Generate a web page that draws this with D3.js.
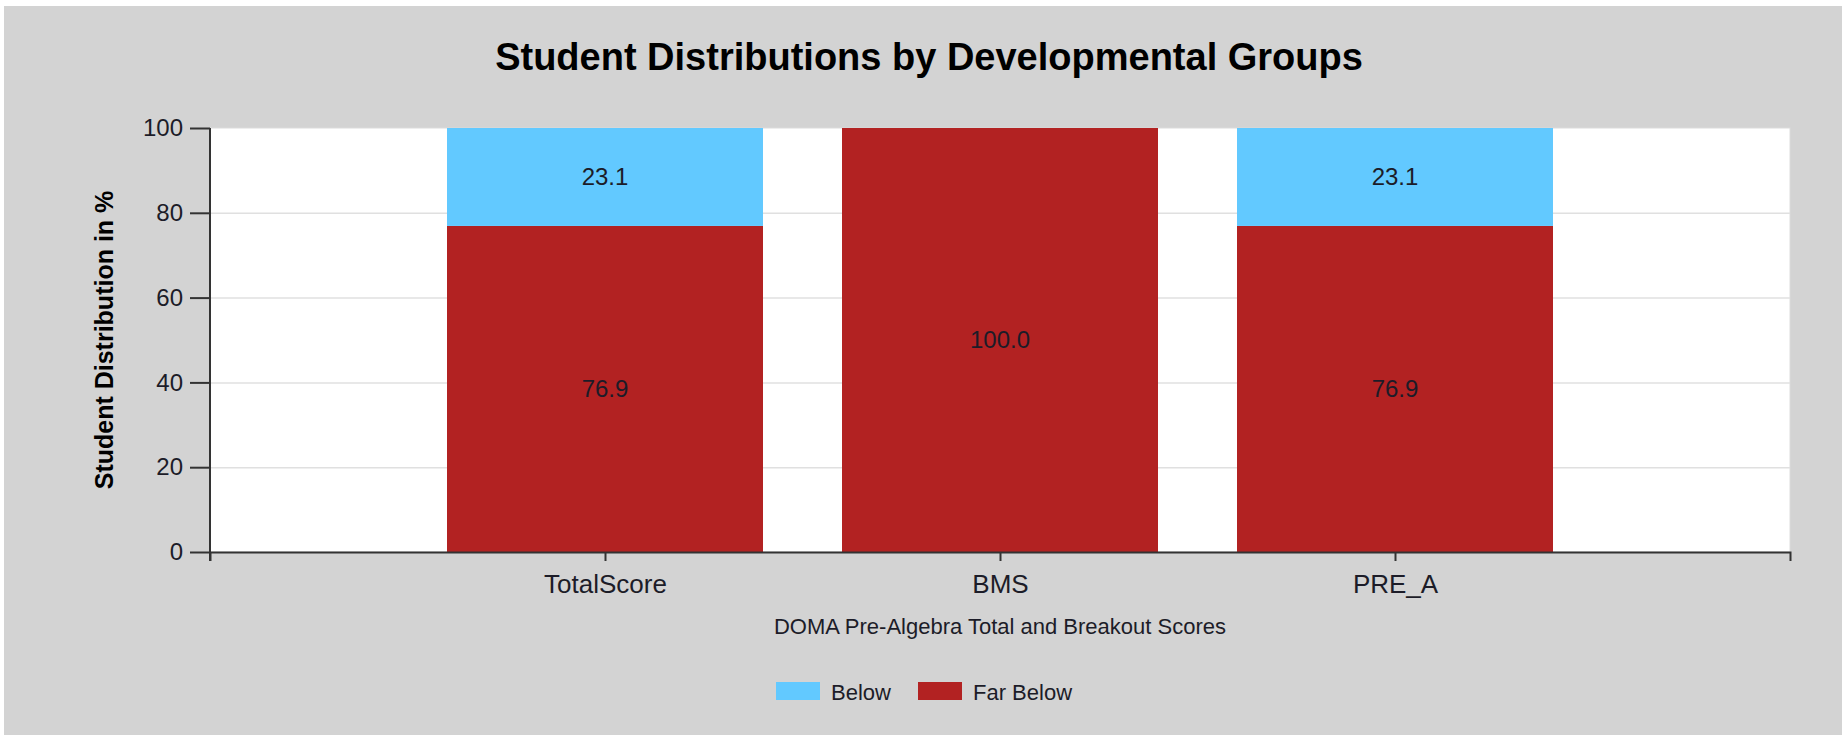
<!DOCTYPE html>
<html>
<head>
<meta charset="utf-8">
<script src="https://cdn.jsdelivr.net/npm/d3@7"></script>
<style>
  body { margin: 0; background: #fff; }
  svg { display: block; font-family: Arial, "Liberation Sans", sans-serif; }
</style>
</head>
<body>
<svg width="1842" height="735"></svg>
<script>
(function () {

  // data
  var categories = ['TotalScore', 'BMS', 'PRE_A']
  var farBelow = [76.9, 100.0, 76.9]
  var below = [23.1, 0, 23.1]
  var seriesNames = ['Far Below', 'Below']
  var seriesColours = ['#b22222', '#62c9ff']
  var legendOrder = ['Below', 'Far Below']
  var yTicks = [0, 20, 40, 60, 80, 100]

  var rows = categories.map(function (c, i) {
    return { cat: c, 'Far Below': farBelow[i], 'Below': below[i] }
  })

  var svg = d3.select('svg')
  var textColour = '#1c1c28'

  // grey panel
  svg.append('rect')
    .attr('x', 4).attr('y', 6)
    .attr('width', 1838).attr('height', 729)
    .attr('fill', '#d3d3d3')

  var left = 210, right = 1790, top = 128, bottom = 552

  var x = d3.scalePoint().domain(categories).range([left, right]).padding(1)
  var bandW = x.step() * 0.8
  var y = d3.scaleLinear().domain([0, 100]).range([bottom, top])
  var colour = d3.scaleOrdinal().domain(seriesNames).range(seriesColours)

  // plot background
  svg.append('rect')
    .attr('x', left).attr('y', top)
    .attr('width', right - left).attr('height', bottom - top)
    .attr('fill', '#fff')
    .attr('stroke', '#dcdcdc')

  // gridlines
  svg.append('g').selectAll('line')
    .data(yTicks.filter(function (d) { return d > 0 && d < 100 }))
    .enter().append('line')
    .attr('x1', left).attr('x2', right)
    .attr('y1', function (d) { return y(d) + 0.5 })
    .attr('y2', function (d) { return y(d) + 0.5 })
    .attr('stroke', '#e0e0e0')
    .attr('stroke-width', 1.5)

  // stacked bars
  var stacked = d3.stack().keys(seriesNames)(rows)

  var layers = svg.append('g').selectAll('g')
    .data(stacked)
    .enter().append('g')
    .attr('fill', function (d) { return colour(d.key) })

  layers.selectAll('rect')
    .data(function (d) { return d })
    .enter().append('rect')
    .attr('x', function (d) { return x(d.data.cat) - bandW / 2 })
    .attr('width', bandW)
    .attr('y', function (d) { return y(d[1]) })
    .attr('height', function (d) { return y(d[0]) - y(d[1]) })

  // value labels
  layers.selectAll('text')
    .data(function (d) { return d.filter(function (p) { return p[1] - p[0] > 0 }) })
    .enter().append('text')
    .attr('x', function (d) { return x(d.data.cat) })
    .attr('y', function (d) { return (y(d[0]) + y(d[1])) / 2 })
    .attr('dy', '0.35em')
    .attr('text-anchor', 'middle')
    .attr('fill', textColour)
    .attr('font-size', 24)
    .text(function (d) { return d3.format('.1f')(d[1] - d[0]) })

  // y axis
  var yAxis = svg.append('g')
    .attr('transform', 'translate(' + left + ',0)')
    .call(d3.axisLeft(y).tickValues(yTicks).tickSize(20).tickSizeOuter(0).tickPadding(7))
  yAxis.select('.domain').remove()
  yAxis.append('line')
    .attr('x1', 0).attr('x2', 0)
    .attr('y1', top).attr('y2', bottom + 9)
    .attr('stroke', '#333').attr('stroke-width', 2)
  yAxis.selectAll('.tick line').attr('stroke', '#333').attr('stroke-width', 2)
  yAxis.selectAll('.tick text')
    .attr('font-size', 24)
    .attr('fill', textColour)

  // x axis
  var xAxis = svg.append('g')
    .attr('transform', 'translate(0,' + bottom + ')')
    .call(d3.axisBottom(x).tickSize(9).tickSizeOuter(9).tickPadding(14))
  xAxis.select('.domain').attr('stroke', '#333').attr('stroke-width', 2)
  xAxis.selectAll('.tick line').attr('stroke', '#333').attr('stroke-width', 2)
  xAxis.selectAll('.tick text')
    .attr('font-size', 26)
    .attr('fill', textColour)

  // titles
  svg.append('text')
    .attr('x', 929).attr('y', 70)
    .attr('text-anchor', 'middle')
    .attr('font-size', 38)
    .attr('font-weight', 'bold')
    .attr('fill', '#000')
    .text('Student Distributions by Developmental Groups')

  svg.append('text')
    .attr('transform', 'translate(113,' + (top + bottom) / 2 + ') rotate(-90)')
    .attr('text-anchor', 'middle')
    .attr('font-size', 25)
    .attr('font-weight', 'bold')
    .attr('fill', '#000')
    .text('Student Distribution in %')

  svg.append('text')
    .attr('x', (left + right) / 2).attr('y', 634)
    .attr('text-anchor', 'middle')
    .attr('font-size', 22)
    .attr('fill', textColour)
    .text('DOMA Pre-Algebra Total and Breakout Scores')

  // legend
  var legendX = [776, 918]
  var legend = svg.append('g').selectAll('g')
    .data(legendOrder)
    .enter().append('g')
    .attr('transform', function (d, i) { return 'translate(' + legendX[i] + ',682)' })

  legend.append('rect')
    .attr('width', 44).attr('height', 18)
    .attr('fill', function (d) { return colour(d) })
  legend.append('text')
    .attr('x', 55).attr('y', 18)
    .attr('font-size', 22)
    .attr('fill', textColour)
    .text(function (d) { return d })

})()
</script>
</body>
</html>
